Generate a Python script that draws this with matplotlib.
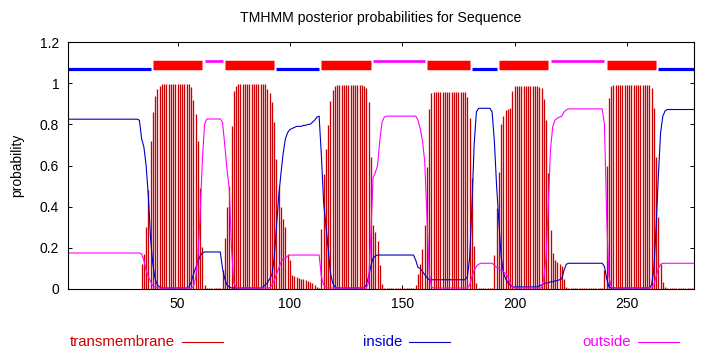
import numpy as np
import matplotlib
matplotlib.use("Agg")
import matplotlib.pyplot as plt
from matplotlib.lines import Line2D

plt.rcParams['font.family'] = ['Liberation Sans', 'DejaVu Sans']

# posterior probabilities per residue (1..280)
transmembrane = [
    0, 0, 0, 0, 0, 0, 0, 0, 0, 0,
    0, 0, 0, 0, 0, 0, 0, 0, 0, 0,
    0, 0, 0, 0, 0, 0, 0, 0, 0, 0,
    0, 0, 0, 0.12, 0.17, 0.30, 0.48, 0.72, 0.86, 0.94,
    0.97, 0.985, 0.995, 0.995, 0.995, 0.995, 0.995, 0.995, 0.995, 0.995,
    0.995, 0.995, 0.995, 0.995, 0.995, 0.98, 0.92, 0.85, 0.72, 0.49,
    0.205, 0.02, 0.005, 0.005, 0.005, 0.005, 0.005, 0.005, 0.005, 0.09,
    0.25, 0.40, 0.50, 0.79, 0.96, 0.985, 0.995, 0.995, 0.995, 0.995,
    0.995, 0.995, 0.995, 0.995, 0.995, 0.995, 0.995, 0.995, 0.995, 0.97,
    0.95, 0.91, 0.81, 0.63, 0.50, 0.40, 0.34, 0.30, 0.17, 0.14,
    0.07, 0.065, 0.06, 0.055, 0.05, 0.05, 0.045, 0.04, 0.035, 0.03,
    0.02, 0.01, 0.005, 0.29, 0.56, 0.68, 0.795, 0.915, 0.965, 0.985,
    0.99, 0.99, 0.99, 0.99, 0.99, 0.99, 0.99, 0.99, 0.99, 0.99,
    0.99, 0.99, 0.985, 0.975, 0.91, 0.64, 0.31, 0.275, 0.235, 0.115,
    0.025, 0.005, 0.005, 0.005, 0.005, 0.005, 0.005, 0.005, 0.005, 0.005,
    0.005, 0.005, 0.005, 0.005, 0.005, 0.02, 0.075, 0.12, 0.195, 0.31,
    0.595, 0.875, 0.95, 0.955, 0.955, 0.955, 0.955, 0.955, 0.955, 0.955,
    0.955, 0.955, 0.955, 0.955, 0.955, 0.955, 0.955, 0.955, 0.935, 0.83,
    0.54, 0.21, 0.03, 0.005, 0.005, 0.005, 0.005, 0.005, 0.005, 0.005,
    0.165, 0.395, 0.57, 0.80, 0.84, 0.87, 0.875, 0.88, 0.96, 0.985,
    0.985, 0.985, 0.985, 0.985, 0.985, 0.985, 0.985, 0.985, 0.985, 0.985,
    0.98, 0.975, 0.925, 0.82, 0.565, 0.285, 0.175, 0.14, 0.13, 0.12,
    0.11, 0.05, 0.01, 0.003, 0.003, 0.003, 0.003, 0.003, 0.003, 0.003,
    0.003, 0.003, 0.003, 0.003, 0.003, 0.003, 0.003, 0.003, 0.003, 0.09,
    0.60, 0.93, 0.985, 0.99, 0.99, 0.99, 0.99, 0.99, 0.99, 0.99,
    0.99, 0.99, 0.99, 0.99, 0.99, 0.99, 0.99, 0.99, 0.99, 0.99,
    0.975, 0.88, 0.64, 0.35, 0.12, 0.035, 0.01, 0.005, 0.005, 0.005,
    0.003, 0.003, 0.003, 0.003, 0.003, 0.003, 0.003, 0.003, 0.003, 0.003,
]

inside = [
    0.825, 0.825, 0.825, 0.825, 0.825, 0.825, 0.825, 0.825, 0.825, 0.825,
    0.825, 0.825, 0.825, 0.825, 0.825, 0.825, 0.825, 0.825, 0.825, 0.825,
    0.825, 0.825, 0.825, 0.825, 0.825, 0.825, 0.825, 0.825, 0.825, 0.825,
    0.825, 0.825, 0.82, 0.73, 0.69, 0.60, 0.45, 0.24, 0.12, 0.05,
    0.02, 0.01, 0.005, 0.005, 0.005, 0.005, 0.005, 0.005, 0.005, 0.005,
    0.005, 0.005, 0.005, 0.005, 0.01, 0.03, 0.07, 0.10, 0.13, 0.16,
    0.175, 0.18, 0.18, 0.18, 0.18, 0.18, 0.18, 0.18, 0.18, 0.10,
    0.05, 0.02, 0.01, 0.005, 0.005, 0.005, 0.005, 0.005, 0.005, 0.005,
    0.005, 0.005, 0.005, 0.005, 0.005, 0.005, 0.005, 0.01, 0.02, 0.03,
    0.05, 0.07, 0.15, 0.30, 0.45, 0.56, 0.66, 0.73, 0.76, 0.775,
    0.78, 0.785, 0.79, 0.79, 0.79, 0.795, 0.795, 0.80, 0.80, 0.81,
    0.82, 0.835, 0.84, 0.65, 0.42, 0.31, 0.20, 0.08, 0.03, 0.01,
    0.005, 0.005, 0.005, 0.005, 0.005, 0.005, 0.005, 0.005, 0.005, 0.005,
    0.005, 0.005, 0.005, 0.02, 0.06, 0.11, 0.15, 0.16, 0.165, 0.165,
    0.165, 0.165, 0.165, 0.165, 0.165, 0.165, 0.165, 0.165, 0.165, 0.165,
    0.165, 0.165, 0.165, 0.165, 0.165, 0.14, 0.105, 0.10, 0.085, 0.07,
    0.055, 0.045, 0.045, 0.045, 0.045, 0.045, 0.045, 0.045, 0.045, 0.045,
    0.045, 0.045, 0.045, 0.045, 0.045, 0.045, 0.045, 0.045, 0.06, 0.15,
    0.40, 0.70, 0.86, 0.878, 0.878, 0.878, 0.878, 0.878, 0.878, 0.86,
    0.72, 0.50, 0.33, 0.16, 0.08, 0.05, 0.03, 0.02, 0.01, 0.01,
    0.01, 0.01, 0.01, 0.01, 0.01, 0.01, 0.01, 0.01, 0.01, 0.01,
    0.015, 0.02, 0.025, 0.03, 0.03, 0.035, 0.035, 0.04, 0.04, 0.045,
    0.05, 0.09, 0.12, 0.125, 0.125, 0.125, 0.125, 0.125, 0.125, 0.125,
    0.125, 0.125, 0.125, 0.125, 0.125, 0.125, 0.125, 0.125, 0.125, 0.11,
    0.05, 0.01, 0.005, 0.005, 0.005, 0.005, 0.005, 0.005, 0.005, 0.005,
    0.005, 0.005, 0.005, 0.005, 0.005, 0.005, 0.005, 0.005, 0.005, 0.005,
    0.02, 0.10, 0.30, 0.55, 0.76, 0.84, 0.865, 0.872, 0.872, 0.872,
    0.872, 0.872, 0.872, 0.872, 0.872, 0.872, 0.872, 0.872, 0.872, 0.872,
]

outside = [
    0.175, 0.175, 0.175, 0.175, 0.175, 0.175, 0.175, 0.175, 0.175, 0.175,
    0.175, 0.175, 0.175, 0.175, 0.175, 0.175, 0.175, 0.175, 0.175, 0.175,
    0.175, 0.175, 0.175, 0.175, 0.175, 0.175, 0.175, 0.175, 0.175, 0.175,
    0.175, 0.175, 0.175, 0.17, 0.14, 0.09, 0.06, 0.035, 0.015, 0.01,
    0.005, 0.005, 0.005, 0.005, 0.005, 0.005, 0.005, 0.005, 0.005, 0.005,
    0.005, 0.005, 0.005, 0.005, 0.005, 0.005, 0.01, 0.05, 0.15, 0.35,
    0.62, 0.80, 0.826, 0.826, 0.826, 0.826, 0.826, 0.826, 0.826, 0.81,
    0.70, 0.58, 0.49, 0.20, 0.03, 0.01, 0.005, 0.005, 0.005, 0.005,
    0.005, 0.005, 0.005, 0.005, 0.005, 0.005, 0.005, 0.005, 0.005, 0.005,
    0.005, 0.02, 0.04, 0.07, 0.10, 0.13, 0.145, 0.15, 0.16, 0.165,
    0.165, 0.165, 0.165, 0.165, 0.165, 0.165, 0.165, 0.165, 0.165, 0.165,
    0.165, 0.165, 0.165, 0.06, 0.02, 0.01, 0.005, 0.005, 0.005, 0.005,
    0.005, 0.005, 0.005, 0.005, 0.005, 0.005, 0.005, 0.005, 0.005, 0.005,
    0.005, 0.005, 0.005, 0.005, 0.03, 0.25, 0.54, 0.565, 0.60, 0.72,
    0.81, 0.835, 0.84, 0.84, 0.84, 0.84, 0.84, 0.84, 0.84, 0.84,
    0.84, 0.84, 0.84, 0.84, 0.84, 0.84, 0.82, 0.78, 0.72, 0.62,
    0.35, 0.08, 0.01, 0.005, 0.005, 0.005, 0.005, 0.005, 0.005, 0.005,
    0.005, 0.005, 0.005, 0.005, 0.005, 0.005, 0.005, 0.005, 0.005, 0.02,
    0.06, 0.09, 0.11, 0.12, 0.125, 0.125, 0.125, 0.125, 0.125, 0.125,
    0.115, 0.105, 0.10, 0.09, 0.085, 0.075, 0.06, 0.03, 0.01, 0.005,
    0.005, 0.005, 0.005, 0.005, 0.005, 0.005, 0.005, 0.005, 0.005, 0.005,
    0.005, 0.005, 0.05, 0.15, 0.40, 0.68, 0.79, 0.82, 0.83, 0.835,
    0.84, 0.86, 0.87, 0.875, 0.875, 0.875, 0.875, 0.875, 0.875, 0.875,
    0.875, 0.875, 0.875, 0.875, 0.875, 0.875, 0.875, 0.875, 0.875, 0.80,
    0.35, 0.06, 0.01, 0.005, 0.005, 0.005, 0.005, 0.005, 0.005, 0.005,
    0.005, 0.005, 0.005, 0.005, 0.005, 0.005, 0.005, 0.005, 0.005, 0.005,
    0.005, 0.02, 0.06, 0.10, 0.12, 0.125, 0.125, 0.125, 0.125, 0.125,
    0.125, 0.125, 0.125, 0.125, 0.125, 0.125, 0.125, 0.125, 0.125, 0.125,
]

residues = np.arange(1, len(transmembrane) + 1)

# predicted topology (start, end) of each region
tm_segments = [(39, 61), (71, 93), (114, 136), (161, 180), (193, 215), (241, 263)]
inside_segments = [(1, 38), (94, 113), (181, 192), (264, 280)]
outside_segments = [(62, 70), (137, 160), (216, 240)]

RED = '#ff0000'
BLUE = '#0000ff'
MAGENTA = '#ff00ff'

fig = plt.figure(figsize=(7.1, 3.5), dpi=100)
ax = fig.add_axes([67.5 / 710, 1 - 289 / 350, (694.3 - 67.5) / 710, 247 / 350])

ax.vlines(residues, 0, transmembrane, color='#cc0000', lw=0.95)
ax.plot(residues, inside, color='#0000c8', lw=0.8)
ax.plot(residues, outside, color=MAGENTA, lw=0.8)

# topology bars along the top
for s, e in inside_segments:
    ax.plot([s, e], [1.07, 1.07], color=BLUE, lw=2.3, solid_capstyle='butt')
for s, e in tm_segments:
    ax.plot([s, e], [1.09, 1.09], color=RED, lw=6.8, solid_capstyle='butt')
for s, e in outside_segments:
    ax.plot([s, e], [1.11, 1.11], color=MAGENTA, lw=1.9, solid_capstyle='butt')

ax.set_xlim(1, 280)
ax.set_ylim(0, 1.2)
ax.set_xticks([50, 100, 150, 200, 250])
ax.set_yticks([0, 0.2, 0.4, 0.6, 0.8, 1.0, 1.2])
ax.set_yticklabels(['0', '0.2', '0.4', '0.6', '0.8', '1', '1.2'])
ax.tick_params(direction='in', top=True, right=True, length=3, width=0.7,
               labelsize=10, pad=6)
for sp in ax.spines.values():
    sp.set_linewidth(0.8)

fig.text(381 / 710, 1 - 18 / 350, 'TMHMM posterior probabilities for Sequence',
         ha='center', va='center', fontsize=10.2)
fig.text(17 / 710, 1 - 165 / 350, 'probability', rotation=90,
         ha='center', va='center', fontsize=10)

# key below the plot: label then sample line
key = [('transmembrane', '#cc0000', 175, 182, 223),
       ('inside', '#0000c8', 402, 409, 450),
       ('outside', MAGENTA, 631, 638, 679)]
ky = 1 - 342 / 350
for label, col, tx, x0, x1 in key:
    fig.text(tx / 710, ky, label, color=col, ha='right', va='center', fontsize=10.8)
    fig.add_artist(Line2D([x0 / 710, x1 / 710], [ky, ky], color=col, lw=0.8,
                          transform=fig.transFigure))

fig.savefig('out.png', dpi=100)
